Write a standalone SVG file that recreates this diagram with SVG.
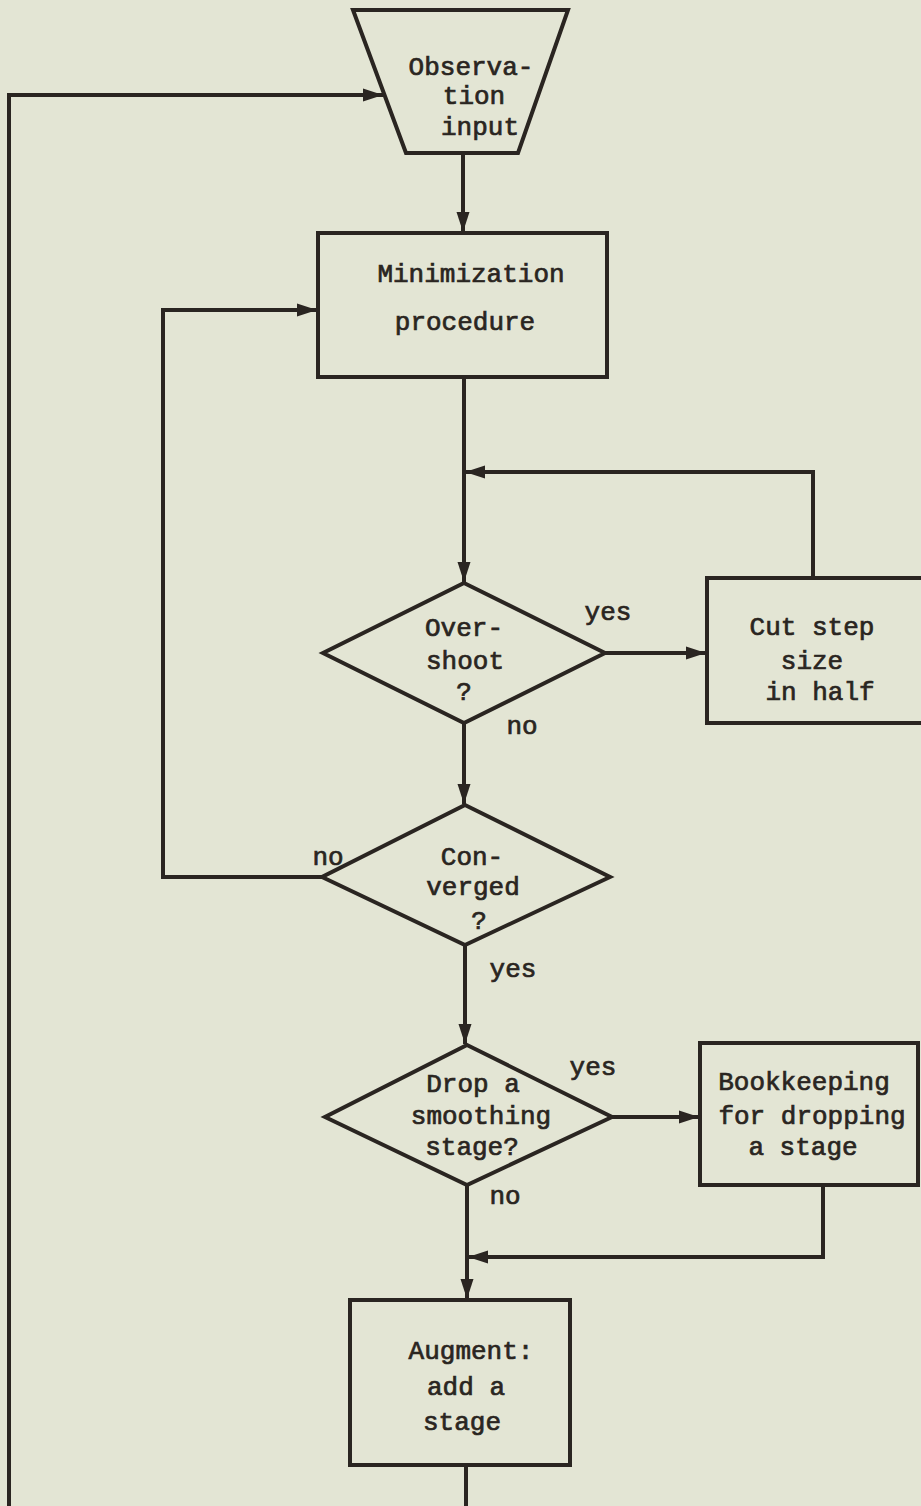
<svg xmlns="http://www.w3.org/2000/svg" width="921" height="1506" viewBox="0 0 921 1506">
<style>
.bg{fill:#e3e5d4}
.shape{fill:none;stroke:#2a2521;stroke-width:4;stroke-linejoin:miter}
.conn{fill:none;stroke:#2a2521;stroke-width:4}
.t{font-family:"Liberation Mono","Courier New",monospace;font-size:26px;fill:#2a2521;stroke:#2a2521;stroke-width:0.7;text-anchor:middle;dominant-baseline:central}
</style>
<defs>
<marker id="ah" markerUnits="userSpaceOnUse" markerWidth="22" markerHeight="14" refX="20" refY="7" orient="auto">
<path d="M0,0.5 L20,7 L0,13.5 Z" fill="#2a2521"/>
</marker>
</defs>
<rect class="bg" x="0" y="0" width="921" height="1506"/>
<g id="connectors">
<path class="conn" d="M463,153 V232" marker-end="url(#ah)"/>
<path class="conn" d="M464,377 V582" marker-end="url(#ah)"/>
<path class="conn" d="M605,653 H706" marker-end="url(#ah)"/>
<path class="conn" d="M813,578 V472 H465" marker-end="url(#ah)"/>
<path class="conn" d="M464,723 V804" marker-end="url(#ah)"/>
<path class="conn" d="M322,877 H163 V310 H317" marker-end="url(#ah)"/>
<path class="conn" d="M465,945 V1044" marker-end="url(#ah)"/>
<path class="conn" d="M612,1117 H699" marker-end="url(#ah)"/>
<path class="conn" d="M467,1185 V1299" marker-end="url(#ah)"/>
<path class="conn" d="M823,1185 V1257 H468" marker-end="url(#ah)"/>
<path class="conn" d="M466,1465 V1506"/>
<path class="conn" d="M9,1506 V95 H383" marker-end="url(#ah)"/>
</g>
<g id="observation-input">
<polygon class="shape" points="353,10 568,10 518,153 406,153"/>
<text class="t" x="471" y="68">Observa-</text>
<text class="t" x="474" y="97">tion</text>
<text class="t" x="480" y="128">input</text>
</g>
<g id="minimization">
<rect class="shape" x="318" y="233" width="289" height="144"/>
<text class="t" x="471" y="275">Minimization</text>
<text class="t" x="465" y="323">procedure</text>
</g>
<g id="overshoot">
<polygon class="shape" points="464,583 605,653 464,723 323,653"/>
<text class="t" x="464" y="629">Over-</text>
<text class="t" x="465" y="662">shoot</text>
<text class="t" x="464" y="693">?</text>
<text class="t" x="608" y="613">yes</text>
<text class="t" x="522" y="727">no</text>
</g>
<g id="cut-step">
<rect class="shape" x="707" y="578" width="230" height="145"/>
<text class="t" x="812" y="628">Cut step</text>
<text class="t" x="812" y="662">size</text>
<text class="t" x="820" y="693">in half</text>
</g>
<g id="converged">
<polygon class="shape" points="465,805 610,877 465,945 322,877"/>
<text class="t" x="472" y="858">Con-</text>
<text class="t" x="473" y="888">verged</text>
<text class="t" x="479" y="922">?</text>
<text class="t" x="328" y="858">no</text>
<text class="t" x="513" y="970">yes</text>
</g>
<g id="drop-stage">
<polygon class="shape" points="467,1045 612,1117 467,1185 325,1117"/>
<text class="t" x="473" y="1085">Drop a</text>
<text class="t" x="481" y="1117">smoothing</text>
<text class="t" x="472" y="1148">stage?</text>
<text class="t" x="593" y="1068">yes</text>
<text class="t" x="505" y="1197">no</text>
</g>
<g id="bookkeeping">
<rect class="shape" x="700" y="1043" width="218" height="142"/>
<text class="t" x="804" y="1083">Bookkeeping</text>
<text class="t" x="812" y="1117">for dropping</text>
<text class="t" x="803" y="1148">a stage</text>
</g>
<g id="augment">
<rect class="shape" x="350" y="1300" width="220" height="165"/>
<text class="t" x="471" y="1352">Augment:</text>
<text class="t" x="466" y="1388">add a</text>
<text class="t" x="462" y="1423">stage</text>
</g>
</svg>
